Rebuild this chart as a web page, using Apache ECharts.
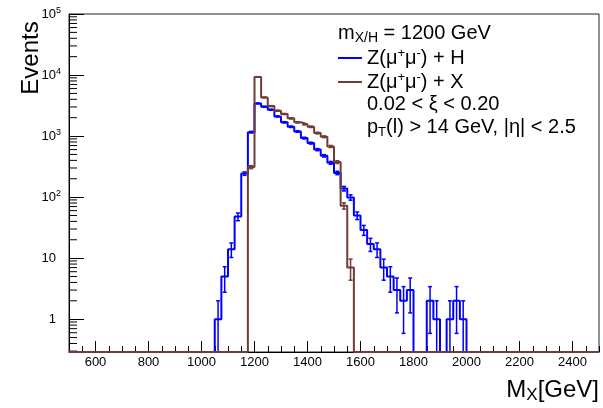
<!DOCTYPE html>
<html><head><meta charset="utf-8">
<script src="https://cdn.jsdelivr.net/npm/echarts@6/dist/echarts.min.js"></script>
<style>html,body{margin:0;padding:0;background:#fff}#c{width:603px;height:408px}</style>
</head><body><div id="c"></div>
<script>
// ---- data ----
const binWidth = 25;
const xMin = 500, xMax = 2500;
const yMin = 0.29, yMax = 100000;
const zhName = 'Z(μ+μ-) + H';
const zxName = 'Z(μ+μ-) + X';
const zhStart = 1050;
const zhCounts = [1, 5, 14, 48, 243, 1160, 3430, 3030, 2700, 2100, 1680, 1420, 1190, 927, 767, 600, 475, 365, 249, 138, 99, 50, 29, 17, 14, 7, 5, 3, 2, 3, 0, 0, 2, 1, 0, 1, 2, 1];
const zxStart = 1175;
const zxCounts = [310, 9300, 4300, 3100, 2600, 2300, 1950, 1680, 1560, 1420, 1120, 975, 676, 375, 72, 7];
const xTickLabels = [600, 800, 1000, 1200, 1400, 1600, 1800, 2000, 2200, 2400];
const yTickLabels = ['1', '10', '10^2', '10^3', '10^4', '10^5'];
const zhColor = '#0000ff';
const zxColor = '#6f3d35';
const FONT = 'Liberation Sans, Arial, Helvetica, sans-serif';

// ---- helpers ----
function fullHist(start, counts) {
  const n = (xMax - xMin) / binWidth, out = [];
  for (let i = 0; i < n; i++) {
    const lo = xMin + i * binWidth, j = (lo - start) / binWidth;
    out.push([lo, (j >= 0 && j < counts.length) ? counts[j] : 0]);
  }
  return out;
}
function stepData(start, counts) {
  const d = fullHist(start, counts).map(p => [p[0], p[1] > 0 ? p[1] : yMin]);
  d.push([xMax, d[d.length - 1][1]]);
  return d;
}
function errData(start, counts) {
  return counts.map((v, j) => [start + (j + 0.5) * binWidth, v, Math.sqrt(v)]).filter(p => p[1] > 0);
}
function lineSeries(name, color, start, counts) {
  return { type: 'line', name, step: 'end', data: stepData(start, counts), showSymbol: false, symbol: 'none',
    lineStyle: { color, width: 2 }, itemStyle: { color }, clip: true, animation: false, silent: true, z: 3 };
}
function errSeries(name, color, start, counts) {
  return { type: 'custom', name, data: errData(start, counts), clip: true, silent: true, animation: false, z: 3,
    encode: { x: 0, y: 1 },
    renderItem(params, api) {
      const c = api.value(0), v = api.value(1), e = api.value(2);
      const lo = v - e;
      const top = api.coord([c, v + e]);
      const bot = api.coord([c, lo > yMin ? lo : yMin * 0.9]);
      const st = { stroke: color, lineWidth: 1.5 };
      const ch = [
        { type: 'line', shape: { x1: top[0], y1: top[1], x2: bot[0], y2: bot[1] }, style: st },
        { type: 'line', shape: { x1: top[0] - 2, y1: top[1], x2: top[0] + 2, y2: top[1] }, style: st }
      ];
      if (lo > yMin) ch.push({ type: 'line', shape: { x1: bot[0] - 2, y1: bot[1], x2: bot[0] + 2, y2: bot[1] }, style: st });
      return { type: 'group', children: ch };
    } };
}
const yMinorTicks = [];
for (let n = -1; n <= 4; n++) for (let k = 2; k <= 9; k++) { const v = k * Math.pow(10, n); if (v > yMin && v < yMax) yMinorTicks.push([xMin, v]); }

function richName(name) {
  return name.replace('Z(μ+μ-)', '{a|Z(μ}{s|+}{a|μ}{s|-}{a|)').replace(/\) \+ (.)$/, ') + $1}');
}

const chart = echarts.init(document.getElementById('c'), null, { renderer: 'canvas' });
chart.setOption({
  animation: false,
  backgroundColor: '#fff',
  grid: { left: 69, right: 4, top: 14, bottom: 56, show: true, borderColor: '#222', borderWidth: 1, backgroundColor: 'transparent' },
  xAxis: {
    type: 'value', min: xMin, max: xMax, interval: 50,
    axisLine: { lineStyle: { color: '#000', width: 1 } },
    axisTick: { inside: true, length: 6, lineStyle: { color: '#000' } },
    splitLine: { show: false },
    axisLabel: { color: '#000', fontFamily: FONT, fontSize: 13, margin: 4,
      formatter: v => xTickLabels.indexOf(v) >= 0 ? String(v) : '' }
  },
  yAxis: {
    type: 'log', logBase: 10, min: yMin, max: yMax,
    axisLine: { lineStyle: { color: '#000', width: 1 } },
    axisTick: { inside: true, length: 15, lineStyle: { color: '#000' } },
    splitLine: { show: false },
    axisLabel: { margin: 8, color: '#000', fontFamily: FONT,
      formatter: v => {
        if (v < 0.5) return '';
        const n = Math.round(Math.log10(v));
        const t = yTickLabels[n];
        if (!t) return '';
        if (t.indexOf('^') < 0) return '{p|' + t + '}';
        const parts = t.split('^');
        return '{b|' + parts[0] + '}{s|' + parts[1] + '}';
      },
      rich: {
        p: { fontSize: 13, lineHeight: 16, fontFamily: FONT, color: '#000', padding: [0, 5, 0, 0] },
        b: { fontSize: 13, lineHeight: 16, fontFamily: FONT, color: '#000' },
        s: { fontSize: 9, lineHeight: 2, verticalAlign: 'top', fontFamily: FONT, color: '#000' }
      } }
  },
  legend: {
    data: [zhName, zxName], orient: 'vertical', left: 338, top: 46.5, padding: 0,
    itemWidth: 24, itemHeight: 2, itemGap: 2.5, icon: 'rect', selectedMode: false,
    formatter: richName,
    textStyle: { fontFamily: FONT, color: '#000', fontSize: 20, rich: {
      a: { fontSize: 20, lineHeight: 23, fontFamily: FONT, color: '#000' },
      s: { fontSize: 13, lineHeight: 15, verticalAlign: 'top', fontFamily: FONT, color: '#000' }
    } }
  },
  graphic: [
    { type: 'text', x: 31, y: 58, rotation: Math.PI / 2,
      style: { text: 'Events', font: '24px ' + FONT, fill: '#000', align: 'center', verticalAlign: 'middle' } },
    { type: 'text', x: 599, y: 390,
      style: { text: '{a|M}{b|X}{a|[GeV]}', align: 'right', verticalAlign: 'middle', rich: {
        a: { fontSize: 24, lineHeight: 28, fontFamily: FONT, fill: '#000', color: '#000' },
        b: { fontSize: 17, lineHeight: 8, verticalAlign: 'bottom', fontFamily: FONT, color: '#000' } } } },
    { type: 'text', x: 338, y: 33,
      style: { text: '{a|m}{b|X/H}{a| = 1200 GeV}', align: 'left', verticalAlign: 'middle', rich: {
        a: { fontSize: 20, lineHeight: 24, fontFamily: FONT, color: '#000' },
        b: { fontSize: 14, lineHeight: 6, verticalAlign: 'bottom', fontFamily: FONT, color: '#000' } } } },
    { type: 'text', x: 367, y: 104,
      style: { text: '0.02 < ξ < 0.20', font: '20px ' + FONT, fill: '#000', align: 'left', verticalAlign: 'middle' } },
    { type: 'text', x: 367, y: 127.5,
      style: { text: '{a|p}{b|T}{a|(l) > 14 GeV, |η| < 2.5}', align: 'left', verticalAlign: 'middle', rich: {
        a: { fontSize: 20, lineHeight: 23, fontFamily: FONT, color: '#000' },
        b: { fontSize: 13, lineHeight: 13, verticalAlign: 'bottom', fontFamily: FONT, color: '#000' } } } }
  ],
  series: [
    { type: 'custom', name: 'xMajorTicks', data: xTickLabels.map(v => [v, yMin]), silent: true, animation: false, z: 2,
      encode: { x: 0, y: 1 },
      renderItem(params, api) { const p = api.coord([api.value(0), yMin]);
        return { type: 'line', shape: { x1: p[0], y1: p[1], x2: p[0], y2: p[1] - 11 }, style: { stroke: '#000', lineWidth: 1 } }; } },
    { type: 'custom', name: 'yMinorTicks', data: yMinorTicks, silent: true, animation: false, z: 2,
      encode: { x: 0, y: 1 },
      renderItem(params, api) { const p = api.coord([xMin, api.value(1)]);
        return { type: 'line', shape: { x1: p[0], y1: p[1], x2: p[0] + 8, y2: p[1] }, style: { stroke: '#000', lineWidth: 1 } }; } },
    lineSeries(zhName, zhColor, zhStart, zhCounts),
    errSeries('zhErr', zhColor, zhStart, zhCounts),
    lineSeries(zxName, zxColor, zxStart, zxCounts),
    errSeries('zxErr', zxColor, zxStart, zxCounts)
  ]
});
</script></body></html>
